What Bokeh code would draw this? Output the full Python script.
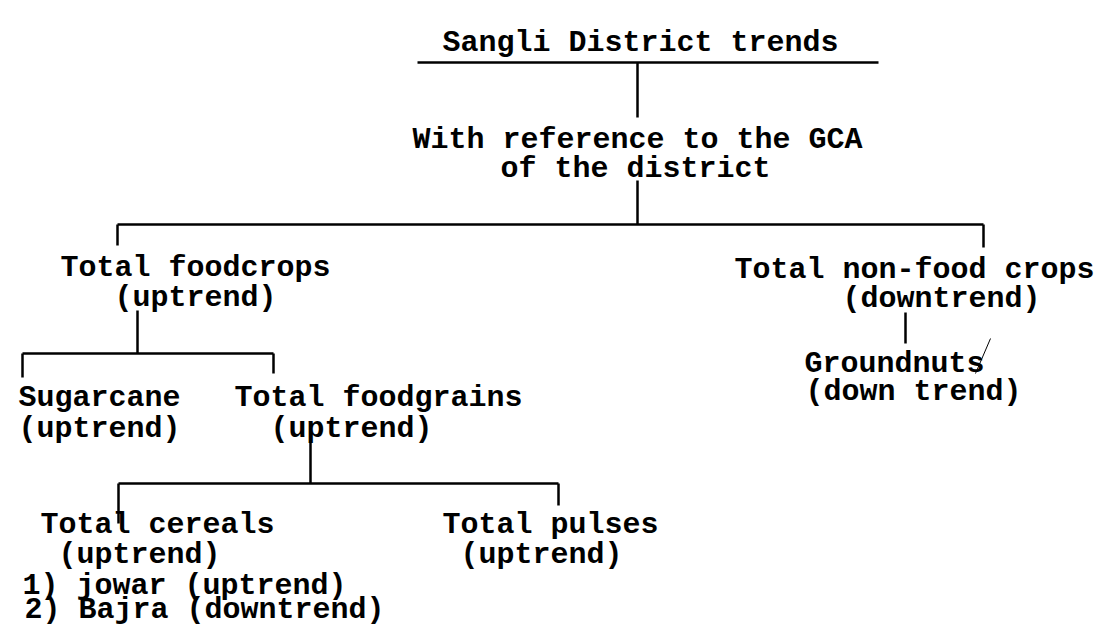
from bokeh.plotting import figure
from bokeh.models import Range1d, ColumnDataSource
from bokeh.core.properties import value
from bokeh.embed import file_html
from bokeh.resources import INLINE

# ---- node labels (text content) ----
labels = [
    "Sangli District trends",
    "With reference to the GCA",
    "of the district",
    "Total foodcrops",
    "(uptrend)",
    "Total non-food crops",
    "(downtrend)",
    "Groundnuts",
    "(down trend)",
    "Sugarcane",
    "(uptrend)",
    "Total foodgrains",
    "(uptrend)",
    "Total cereals",
    "(uptrend)",
    "1) jowar (uptrend)",
    "2) Bajra (downtrend)",
    "Total pulses",
    "(uptrend)",
]

# ---- layout of labels (centre x, baseline y in picture pixels) ----
label_x = [640, 637, 635, 195, 195, 914, 941, 894, 913, 99, 99, 378, 351,
           157, 139, 184, 204, 550, 541]
label_y = [42, 139, 168, 267, 297, 269, 298, 363, 391, 397, 428, 397, 428,
           524, 554, 585, 609, 524, 554]

# ---- connector segments of the tree ----
seg_x0 = [417, 637, 637, 117, 117, 983, 137, 22, 22, 273, 310, 118, 118, 558, 905]
seg_y0 = [62, 62, 180, 224, 224, 224, 310, 353, 353, 353, 440, 483, 483, 483, 312]
seg_x1 = [878, 637, 637, 983, 117, 983, 137, 273, 22, 273, 310, 558, 118, 558, 905]
seg_y1 = [62, 117, 224, 224, 245, 247, 353, 353, 377, 373, 483, 483, 523, 505, 343]

# stray pen stroke across "Groundnuts"
mark_x0, mark_y0, mark_x1, mark_y1 = [990], [338], [975], [373]

W, H = 1110, 627
p = figure(width=W, height=H, output_backend="svg", toolbar_location=None,
           x_range=Range1d(0, W), y_range=Range1d(H, 0),
           min_border=0, background_fill_color="white",
           border_fill_color="white")
p.axis.visible = False
p.grid.visible = False
p.outline_line_color = None

p.segment(x0=seg_x0, y0=seg_y0, x1=seg_x1, y1=seg_y1,
          line_color="black", line_width=2.5)
p.segment(x0=mark_x0, y0=mark_y0, x1=mark_x1, y1=mark_y1,
          line_color="black", line_width=1)

src = ColumnDataSource(dict(x=label_x, y=label_y, t=labels))
p.text(x="x", y="y", text="t", source=src,
       text_font=value("Liberation Mono"), text_font_size="30px",
       text_font_style="bold",
       text_align="center", text_baseline="alphabetic",
       text_color="black")

open("out.html", "w").write(file_html(p, INLINE))
